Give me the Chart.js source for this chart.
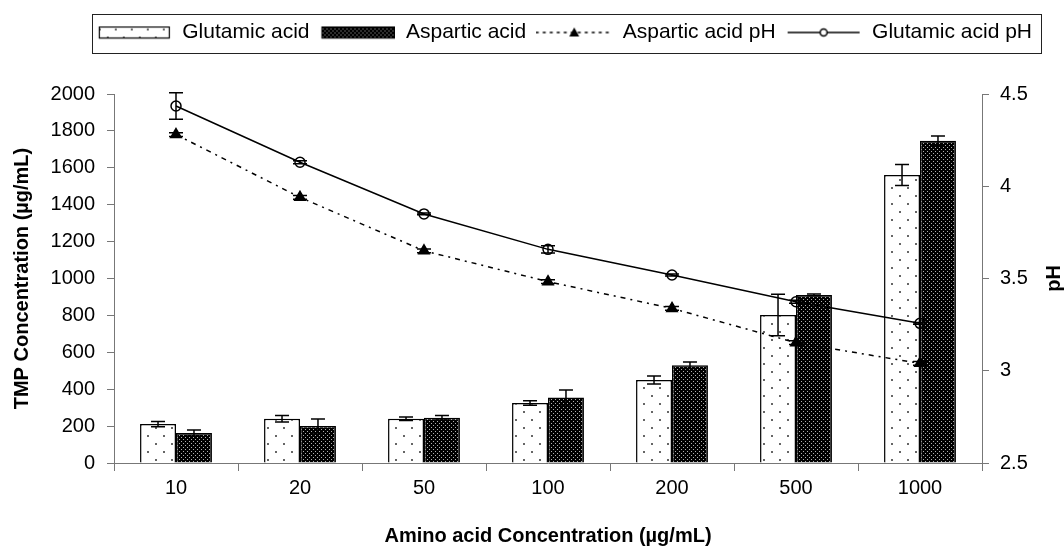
<!DOCTYPE html>
<html>
<head>
<meta charset="utf-8">
<script src="https://cdn.jsdelivr.net/npm/chart.js@4"></script>
<style>
  body { margin: 0; background: #fff; }
  canvas { display: block; }
</style>
</head>
<body>
<canvas id="myChart" width="1064" height="546"></canvas>
<script>
// data
const categories = ['10', '20', '50', '100', '200', '500', '1000'];
const glutamicTmp = [211, 240, 240, 325, 450, 802, 1561];
const glutamicTmpErr = [14, 18, 10, 12, 22, 112, 57];
const asparticTmp = [163, 200, 245, 355, 530, 911, 1747];
const asparticTmpErr = [16, 38, 12, 40, 18, 5, 25];
const glutamicPh = [4.435, 4.13, 3.85, 3.658, 3.519, 3.374, 3.257];
const glutamicPhErr = [0.072, 0.008, 0.005, 0.02, 0.005, 0.008, 0.005];
const asparticPh = [4.28, 3.94, 3.65, 3.483, 3.338, 3.152, 3.04];
const asparticPhErr = [0.01, 0.01, 0.01, 0.01, 0.01, 0.01, 0.01];
const tmpTicks = [0, 200, 400, 600, 800, 1000, 1200, 1400, 1600, 1800, 2000];
const phTicks = [2.5, 3, 3.5, 4, 4.5];

Chart.defaults.font.family = "'Liberation Sans', Arial, sans-serif";
Chart.defaults.color = '#000';

// fill patterns
function dotsPattern(ctx) {
  const t = document.createElement('canvas');
  t.width = 16; t.height = 16;
  const c = t.getContext('2d');
  c.fillStyle = '#fff'; c.fillRect(0, 0, 16, 16);
  c.fillStyle = '#666';
  c.fillRect(3, 3, 2, 2);
  c.fillRect(11, 11, 2, 2);
  return ctx.createPattern(t, 'repeat');
}
function darkPattern(ctx) {
  const t = document.createElement('canvas');
  t.width = 4; t.height = 4;
  const c = t.getContext('2d');
  c.fillStyle = '#000'; c.fillRect(0, 0, 4, 4);
  c.fillStyle = '#b0b0b0';
  c.fillRect(1, 1, 1, 1);
  c.fillRect(3, 3, 1, 1);
  return ctx.createPattern(t, 'repeat');
}

// legend symbols
const LW = 76;
function swatch(w, makePat) {
  const c = document.createElement('canvas');
  c.width = LW; c.height = 14;
  const x = c.getContext('2d');
  const x0 = Math.round((LW - w) / 2) + 0.5;
  x.fillStyle = makePat(x);
  x.fillRect(x0, 1.5, w, 11);
  x.strokeStyle = '#000'; x.lineWidth = 1.2;
  x.strokeRect(x0, 1.5, w, 11);
  return c;
}
function lineSymbol(w, dash, marker) {
  const c = document.createElement('canvas');
  c.width = LW; c.height = 14;
  const x = c.getContext('2d');
  const x0 = (LW - w) / 2;
  x.strokeStyle = '#000'; x.lineWidth = 1.5;
  x.setLineDash(dash);
  x.beginPath(); x.moveTo(x0, 7); x.lineTo(x0 + w, 7); x.stroke();
  x.setLineDash([]);
  if (marker === 'tri') {
    x.fillStyle = '#000';
    x.beginPath(); x.moveTo(LW / 2, 2); x.lineTo(LW / 2 + 5, 11); x.lineTo(LW / 2 - 5, 11); x.closePath(); x.fill();
  } else {
    x.fillStyle = '#fff';
    x.beginPath(); x.arc(LW / 2, 7, 3.5, 0, Math.PI * 2); x.fill(); x.stroke();
  }
  return c;
}
const legendSymbols = [
  swatch(70, dotsPattern),
  swatch(73, darkPattern),
  lineSymbol(77, [3, 4], 'tri'),
  lineSymbol(72, [], 'circle')
];

const errorSets = [glutamicTmpErr, asparticTmpErr, asparticPhErr, glutamicPhErr];

// error bars for every dataset
const errorBars = {
  id: 'errorBars',
  afterDatasetsDraw(chart) {
    const ctx = chart.ctx;
    ctx.save();
    ctx.strokeStyle = '#000';
    ctx.lineWidth = 1.5;
    chart.data.datasets.forEach((ds, i) => {
      const meta = chart.getDatasetMeta(i);
      const scale = chart.scales[meta.yAxisID];
      const errs = errorSets[i];
      meta.data.forEach((el, j) => {
        const v = ds.data[j];
        const hi = scale.getPixelForValue(v + errs[j]);
        const lo = scale.getPixelForValue(v - errs[j]);
        const x = el.x;
        ctx.beginPath();
        ctx.moveTo(x, hi); ctx.lineTo(x, lo);
        ctx.moveTo(x - 7, hi); ctx.lineTo(x + 7, hi);
        ctx.moveTo(x - 7, lo); ctx.lineTo(x + 7, lo);
        ctx.stroke();
      });
    });
    ctx.restore();
  }
};

// legend height / frame, right axis title
const extras = {
  id: 'extras',
  beforeLayout(chart) {
    const lg = chart.legend;
    if (lg && !lg._wrapped) {
      const fit = lg.fit;
      lg.fit = function () { fit.call(this); this.height = 82; };
      lg._wrapped = true;
    }
  },
  afterDraw(chart) {
    const ctx = chart.ctx;
    const hb = chart.legend.legendHitBoxes;
    if (hb && hb.length) {
      const first = hb[0], last = hb[hb.length - 1];
      const left = Math.round(first.left - 4) + 0.5;
      const right = Math.round(last.left + last.width + 9) + 0.5;
      const cy = first.top + first.height / 2;
      const top = Math.round(cy - 19) + 0.5;
      ctx.save();
      ctx.strokeStyle = '#222';
      ctx.lineWidth = 1;
      ctx.strokeRect(left, top, right - left, 39);
      ctx.restore();
    }
    const area = chart.chartArea;
    ctx.save();
    ctx.translate(1054, (area.top + area.bottom) / 2);
    ctx.rotate(-Math.PI / 2);
    ctx.font = "bold 20px 'Liberation Sans', Arial, sans-serif";
    ctx.fillStyle = '#000';
    ctx.textAlign = 'center';
    ctx.textBaseline = 'middle';
    ctx.fillText('pH', 0, 0);
    ctx.restore();
  }
};

const axisGrey = '#777';
const plainNumber = (v) => String(v);

const myChart = new Chart(document.getElementById('myChart'), {
  type: 'bar',
  data: {
    labels: categories,
    datasets: [
      {
        label: 'Glutamic acid',
        data: glutamicTmp,
        backgroundColor: dotsPattern(document.getElementById('myChart').getContext('2d')),
        borderColor: '#000',
        borderWidth: 1.5,
        categoryPercentage: 0.58,
        barPercentage: 1,
        yAxisID: 'y',
        order: 2
      },
      {
        label: 'Aspartic acid',
        data: asparticTmp,
        backgroundColor: darkPattern(document.getElementById('myChart').getContext('2d')),
        borderColor: '#000',
        borderWidth: 1.5,
        categoryPercentage: 0.58,
        barPercentage: 1,
        yAxisID: 'y',
        order: 2
      },
      {
        type: 'line',
        label: 'Aspartic acid pH',
        data: asparticPh,
        borderColor: '#000',
        borderWidth: 1.5,
        borderDash: [5, 5, 2, 5],
        pointStyle: 'triangle',
        pointRadius: 6,
        pointBackgroundColor: '#000',
        pointBorderColor: '#000',
        tension: 0,
        yAxisID: 'y2',
        order: 1
      },
      {
        type: 'line',
        label: 'Glutamic acid pH',
        data: glutamicPh,
        borderColor: '#000',
        borderWidth: 1.5,
        pointStyle: 'circle',
        pointRadius: 5,
        pointBorderWidth: 1.5,
        pointBackgroundColor: 'rgba(0,0,0,0)',
        pointBorderColor: '#000',
        tension: 0,
        yAxisID: 'y2',
        order: 0
      }
    ]
  },
  options: {
    responsive: false,
    animation: false,
    devicePixelRatio: 1,
    layout: { padding: { top: 12, right: 22, left: 0, bottom: 0 } },
    plugins: {
      tooltip: { enabled: false },
      legend: {
        position: 'top',
        align: 'end',
        labels: {
          usePointStyle: true,
          pointStyleWidth: LW,
          padding: 10,
          font: { size: 21 },
          color: '#000',
          generateLabels: (chart) => chart.data.datasets.map((ds, i) => ({
            text: ds.label,
            pointStyle: legendSymbols[i],
            datasetIndex: i,
            fontColor: '#000',
            hidden: false,
            lineWidth: 0
          }))
        }
      }
    },
    scales: {
      x: {
        offset: true,
        grid: { display: true, drawOnChartArea: false, drawTicks: true, tickLength: 8, color: axisGrey, offset: true },
        border: { display: true, color: axisGrey },
        ticks: { font: { size: 20 }, padding: 5, color: '#000', maxRotation: 0 },
        title: {
          display: true,
          text: 'Amino acid Concentration (µg/mL)',
          font: { size: 20, weight: 'bold', lineHeight: 1 },
          padding: { top: 0, bottom: 0 },
          color: '#000'
        },
        afterFit: (s) => { s.height = 83; }
      },
      y: {
        position: 'left',
        min: 0,
        max: 2000,
        afterBuildTicks: (s) => { s.ticks = tmpTicks.map(v => ({ value: v })); },
        grid: { display: true, drawOnChartArea: false, drawTicks: true, tickLength: 7, color: axisGrey },
        border: { display: true, color: axisGrey },
        ticks: { font: { size: 20 }, padding: 12, color: '#000', callback: plainNumber },
        title: {
          display: true,
          text: 'TMP Concentration (µg/mL)',
          font: { size: 20, weight: 'bold', lineHeight: 1.2 },
          padding: { top: 10, bottom: 0 },
          color: '#000'
        },
        afterFit: (s) => { s.width = 114; }
      },
      y2: {
        position: 'right',
        min: 2.5,
        max: 4.5,
        afterBuildTicks: (s) => { s.ticks = phTicks.map(v => ({ value: v })); },
        grid: { display: true, drawOnChartArea: false, drawTicks: true, tickLength: 7, color: axisGrey },
        border: { display: true, color: axisGrey },
        ticks: { font: { size: 20 }, padding: 11, color: '#000', callback: plainNumber },
        title: { display: false },
        afterFit: (s) => { s.width = 60; }
      }
    }
  },
  plugins: [errorBars, extras]
});
</script>
</body>
</html>
